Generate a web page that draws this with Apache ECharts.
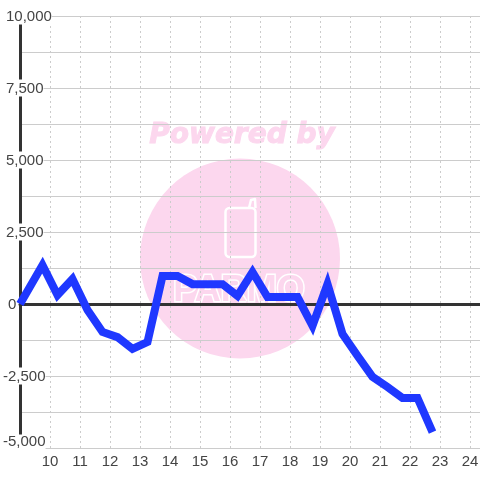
<!DOCTYPE html>
<html><head><meta charset="utf-8">
<style>html,body{margin:0;padding:0;background:#fff}#c{width:480px;height:480px}</style>
<script src="https://cdn.jsdelivr.net/npm/echarts@6/dist/echarts.min.js"></script>
</head><body><div id="c"></div>
<script>
const hours=[9,9.75,10.25,10.75,11.25,11.75,12.25,12.75,13.25,13.75,14.25,14.75,15.25,15.75,16.25,16.75,17.25,17.75,18.25,18.75,19.25,19.75,20.25,20.75,21.25,21.75,22.25,22.75];
const values=[0,1350,310,870,-210,-970,-1150,-1560,-1320,970,970,690,690,690,280,1110,240,240,240,-760,690,-1040,-1800,-2530,-2880,-3260,-3260,-4445];
const pink='#fcd7ee';
const chart=echarts.init(document.getElementById('c'),null,{renderer:'canvas'});
const ff='Liberation Sans', tc='#444', fs=15;
const tok=(extra)=>Object.assign({fontFamily:ff,fontSize:fs,color:tc},extra);
chart.setOption({
 animation:false,backgroundColor:'#fff',
 grid:{left:20,right:0,top:16,bottom:32,outerBoundsMode:'none'},
 graphic:{elements:[
  {type:'circle',z:-10,shape:{cx:240,cy:258.5,r:100},style:{fill:pink}},
  {type:'text',z:-10,x:242,y:136,style:{text:'Powered by',font:'italic bold 28px "DejaVu Sans"',fill:pink,stroke:pink,lineWidth:1,align:'center',verticalAlign:'middle'}},
  {type:'rect',z:-9,shape:{x:225.5,y:208,width:30,height:49,r:4},style:{fill:pink,stroke:'#fff',lineWidth:2.5}},
  {type:'polyline',z:-9,shape:{points:[[249,208],[251,200],[255,199],[255.5,208]]},style:{fill:'none',stroke:'#fff',lineWidth:2.5,lineJoin:'round'}},
  {type:'text',z:-9,x:239,y:291,style:{text:'PARMO',font:'bold 36px "Liberation Sans Narrow","Liberation Sans"',fill:pink,stroke:'#fff',lineWidth:3,align:'center',verticalAlign:'middle'}}
 ]},
 xAxis:[{type:'value',min:9,max:9+460/30,interval:1,position:'bottom',
   axisLine:{onZero:false,lineStyle:{color:'#ccc',width:1}},axisTick:{show:false},
   axisLabel:{fontFamily:ff,color:tc,fontSize:fs,margin:6,formatter:v=>Number.isInteger(v)&&v>9?String(v):''},
   splitLine:{show:true,lineStyle:{color:'#ccc',type:[2,3],width:1}}},
  {type:'value',min:9,max:9+460/30,position:'bottom',
   axisLine:{onZero:true,lineStyle:{color:'#333',width:3}},axisTick:{show:false},axisLabel:{show:false},splitLine:{show:false}}],
 yAxis:{type:'value',min:-5000,max:10000,interval:2500,
   axisLine:{show:true,onZero:false,lineStyle:{color:'#333',width:3}},axisTick:{show:false},
   axisLabel:{align:'left',margin:17,backgroundColor:'#fff',
     formatter:v=>{
       const s=v.toLocaleString('en-US');
       if(v===-5000) return '{low|'+s+'}';
       if(v<0) return '{neg|'+s+'}';
       if(v===0) return '{zero|0}';
       return '{pos|'+s+'}';
     },
     rich:{low:tok({padding:[0,0,12,0]}),neg:tok({padding:[2,0,0,0]}),zero:tok({padding:[2,0,0,5]}),pos:tok({padding:[2,0,0,3]})}},
   splitLine:{show:true,lineStyle:{color:'#ccc',width:1}},
   minorTick:{show:false,splitNumber:2},
   minorSplitLine:{show:true,lineStyle:{color:'#ccc',width:1}}},
 series:[{type:'line',data:hours.map((h,i)=>[h,values[i]]),showSymbol:false,clip:false,
   lineStyle:{color:'#1f38ff',width:8,cap:'butt',join:'miter'},z:5}]
});
</script></body></html>
